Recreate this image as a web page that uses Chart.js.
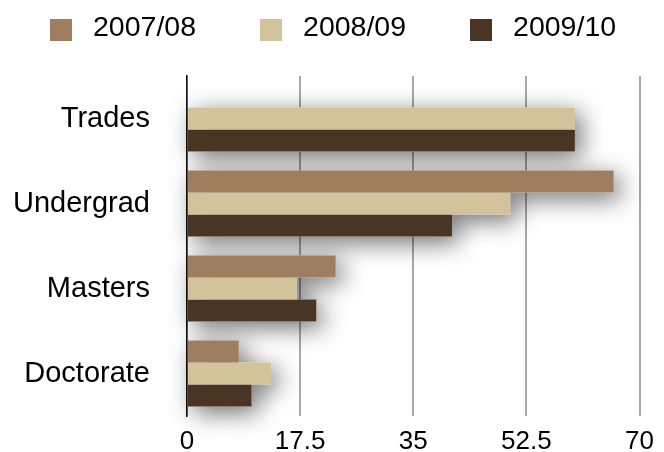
<!DOCTYPE html>
<html>
<head>
<meta charset="utf-8">
<script src="https://cdn.jsdelivr.net/npm/chart.js@4/dist/chart.umd.min.js"></script>
<style>
  html, body { margin: 0; padding: 0; background: #fff; }
  #wrap { position: relative; width: 664px; height: 452px; }
  #legend { position: absolute; left: 50px; top: 10px; display: flex; align-items: center;
            font-family: "Liberation Sans", Arial, Helvetica, sans-serif; font-size: 28.5px; color: #000; }
  .item { display: flex; align-items: center; margin-right: 64px; }
  .box { width: 22px; height: 22px; margin-right: 21px; margin-top: 6px; }
</style>
</head>
<body>
<div id="wrap">
  <canvas id="c" width="664" height="452"></canvas>
  <div id="legend"></div>
</div>
<script>
const categories = ["Trades", "Undergrad", "Masters", "Doctorate"];
const seriesNames = ["2007/08", "2008/09", "2009/10"];
const values0708 = [null, 66, 23, 8];
const values0809 = [60, 50, 17, 13];
const values0910 = [60, 41, 20, 10];
const xTicks = [0, 17.5, 35, 52.5, 70];
const colors = ["#9E7E5E", "#D2C39B", "#4A3524"];

const seriesValues = [values0708, values0809, values0910];

// HTML legend
const legend = document.getElementById('legend');
seriesNames.forEach((name, i) => {
  const item = document.createElement('div');
  item.className = 'item';
  const box = document.createElement('div');
  box.className = 'box';
  box.style.background = colors[i];
  const txt = document.createElement('span');
  txt.textContent = name;
  item.appendChild(box);
  item.appendChild(txt);
  legend.appendChild(item);
});

const shadowPlugin = {
  id: 'barShadow',
  beforeDatasetsDraw(chart) {
    const ctx = chart.ctx;
    ctx.save();
    ctx.shadowColor = 'rgba(0,0,0,0.6)';
    ctx.shadowBlur = 24;
    ctx.shadowOffsetX = 6;
    ctx.shadowOffsetY = 6;
    ctx.fillStyle = '#ffffff';
    chart.data.datasets.forEach((ds, di) => {
      const meta = chart.getDatasetMeta(di);
      meta.data.forEach((el, i) => {
        if (ds.data[i] == null) return;
        const p = el.getProps(['x', 'y', 'base', 'height'], true);
        const left = Math.min(p.base, p.x);
        const w = Math.abs(p.x - p.base);
        ctx.fillRect(left, p.y - p.height / 2, w, p.height);
      });
    });
    ctx.restore();
  }
};

new Chart(document.getElementById('c'), {
  type: 'bar',
  data: {
    labels: categories,
    datasets: seriesNames.map((n, i) => ({
      label: n,
      data: seriesValues[i],
      backgroundColor: colors[i],
      borderWidth: 0,
      barPercentage: 1.0,
      categoryPercentage: 0.776
    }))
  },
  options: {
    indexAxis: 'y',
    responsive: false,
    animation: false,
    devicePixelRatio: 1,
    layout: { padding: { top: 76, right: 0, bottom: 0, left: 0 } },
    plugins: { legend: { display: false }, tooltip: { enabled: false } },
    scales: {
      x: {
        min: 0, max: 70,
        afterBuildTicks(scale) { scale.ticks = xTicks.map(v => ({ value: v })); },
        afterFit(scale) { scale.height = 36; },
        grid: { color: '#A8A8A8', lineWidth: 2, drawTicks: false },
        border: { display: false },
        ticks: {
          color: '#000', padding: 10, maxRotation: 0, autoSkip: false,
          font: { family: '"Liberation Sans", Arial, Helvetica, sans-serif', size: 26 }
        }
      },
      y: {
        afterFit(scale) { scale.width = 187; scale.paddingTop = 0; scale.paddingBottom = 0; },
        grid: { display: false, drawTicks: false },
        border: { display: true, color: '#111', width: 1.5 },
        ticks: {
          color: '#000', padding: 37,
          font: { family: '"Liberation Sans", Arial, Helvetica, sans-serif', size: 29 }
        }
      }
    }
  },
  plugins: [shadowPlugin]
});
</script>
</body>
</html>
